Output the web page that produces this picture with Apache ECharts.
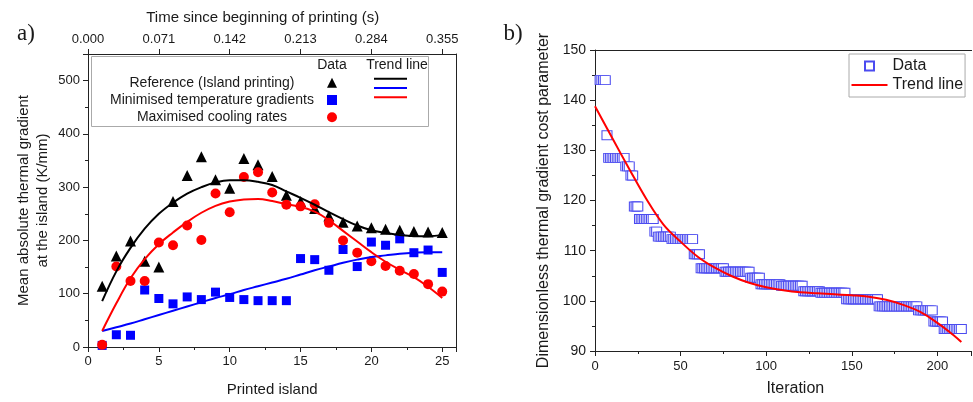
<!DOCTYPE html>
<html><head><meta charset="utf-8">
<script src="https://cdn.jsdelivr.net/npm/echarts@6/dist/echarts.min.js"></script>
<style>html,body{margin:0;padding:0;background:#fff}#c{width:973px;height:402px}</style>
</head><body><div id="c"></div>
<script>
// ---------- panel a) ----------
const islands = [1,2,3,4,5,6,7,8,9,10,11,12,13,14,15,16,17,18,19,20,21,22,23,24,25];
const referenceData = [114,171,199,161,150,273,322,357,314,298,354,342,320,285,273,260,246,234,227,224,221,219,217,216,215];
const minTempData   = [3,23,22,107,91,81,94,89,103,93,89,87,87,87,166,164,144,183,151,197,191,203,177,182,140];
const maxCoolData   = [4,151,124,124,196,191,228,201,288,253,319,328,290,267,264,268,233,200,177,161,152,143,137,118,104];
const referenceTrend = [86,142,186,222,250,271,288,300,309,313,313,310,304,292,280,267,253,240,228,219,214,210,208,208,210];
const minTempTrend   = [30,37,44,52,60,68,76,84,92,99,107,114,121,128,136,144,151,158,164,169,172,175,177,178,178];
const maxCoolTrend   = [30,82,129,165,193,215,235,252,265,273,277,278,274,268,263,254,238,218,198,178,160,145,131,113,92];
const islandTicks = [0,5,10,15,20,25];
const timeTickLabels = ['0.000','0.071','0.142','0.213','0.284','0.355'];
const seriesNamesA = ['Reference (Island printing)','Minimised temperature gradients','Maximised cooling rates'];

// ---------- panel b) ----------
const firstIteration = 3;
const costData = [
 144,144,144,144,
 133,
 128.5,128.5,128.5,128.5,128.5,128.5,128.5,128.5,128.5,128.5,
 126.8,126.8,126.8,
 125,125,
 118.8,118.8,118.8,
 116.3,116.3,116.3,116.3,116.3,116.3,116.3,116.3,116.3,
 113.8,113.8,
 112.8,112.8,112.8,112.8,112.8,112.8,112.8,112.8,
 112.3,112.3,112.3,112.3,112.3,112.3,112.3,112.3,112.3,112.3,112.3,112.3,112.3,
 109.3,109.3,109.3,109.3,
 106.5,106.5,106.5,106.5,106.5,106.5,106.5,106.5,106.5,106.5,106.5,106.5,106.5,106.5,
 105.8,105.8,105.8,105.8,105.8,105.8,105.8,105.8,105.8,105.8,105.8,105.8,105.8,105.8,105.8,
 104.6,104.6,104.6,104.6,104.6,104.6,
 103.3,103.3,103.3,103.3,103.3,103.3,103.3,103.3,103.3,103.3,103.3,103.3,
 103.0,103.0,103.0,103.0,103.0,103.0,103.0,103.0,103.0,103.0,103.0,103.0,103.0,
 101.9,101.9,101.9,101.9,101.9,101.9,101.9,101.9,101.9,101.9,
 101.6,101.6,101.6,101.6,101.6,101.6,101.6,101.6,101.6,101.6,101.6,101.6,101.6,101.6,101.6,
 100.3,100.3,100.3,100.3,100.3,100.3,100.3,100.3,100.3,100.3,100.3,100.3,100.3,100.3,100.3,100.3,100.3,100.3,100.3,
 98.9,98.9,98.9,98.9,98.9,98.9,98.9,98.9,98.9,98.9,98.9,98.9,98.9,98.9,98.9,98.9,98.9,98.9,98.9,98.9,98.9,98.9,98.9,
 98.1,98.1,98.1,98.1,98.1,98.1,98.1,98.1,98.1,
 95.9,95.9,95.9,95.9,95.9,95.9,
 94.4,94.4,94.4,94.4,94.4,94.4,94.4,94.4,94.4,94.4,94.4
];
const trendIterations = [0,10,20,30,40,50,60,70,80,90,100,110,120,130,140,150,160,170,180,190,200,210,214];
const costTrend = [138.8,132.5,126.3,120.3,115.2,111.8,108.8,106.6,104.9,103.6,102.7,102.1,101.7,101.5,101.3,101.1,100.8,100.2,99.2,97.8,95.6,93.0,91.8];

const FONT = 'Liberation Sans, Arial, sans-serif';
const TXT = '#1a1a1a';
const AX = '#222';
const LINE_ICON_A = 'path://M0,0L33,0L33,2L0,2Z';
const LINE_ICON_B = 'path://M0,0L36,0L36,2L0,2Z';
const SQUARE_ICON = 'path://M0,0L9,0L9,9L0,9Z';

function pairs(xs, ys){ return xs.map((x,i)=>[x, ys[i]]); }

const chart = echarts.init(document.getElementById('c'));
const baseAxis = {
  axisLine:{show:true, onZero:false, lineStyle:{color:AX, width:1}},
  splitLine:{show:false},
  axisTick:{show:true, inside:false, length:5, lineStyle:{color:AX}},
  minorTick:{show:true, splitNumber:2, length:3, lineStyle:{color:AX}},
  axisLabel:{color:TXT, fontSize:13, fontFamily:FONT, showMaxLabel:false, margin:8},
  nameTextStyle:{color:TXT, fontFamily:FONT, fontSize:15}
};
function ax(o){ return Object.assign({}, JSON.parse(JSON.stringify(baseAxis)), o); }

const option = {
  animation:false,
  backgroundColor:'#fff',
  textStyle:{fontFamily:FONT},
  grid:[
    {left:88, top:54, width:368.4, height:296},
    {left:595, top:50, width:376.6, height:303.3}
  ],
  xAxis:[
    ax({gridIndex:0, type:'value', position:'bottom', min:0, max:26, interval:5,
        name:'Printed island', nameLocation:'middle', nameGap:35}),
    ax({gridIndex:0, type:'value', position:'top', min:0, max:26, interval:5,
        minorTick:{show:false},
        axisLabel:{color:TXT, fontSize:13, fontFamily:FONT, showMaxLabel:false, margin:8,
          formatter:v=>{const k=islandTicks.indexOf(v); return k>=0?timeTickLabels[k]:'';}},
        name:'Time since beginning of printing (s)', nameLocation:'middle', nameGap:29,
        nameTextStyle:{color:TXT, fontFamily:FONT, fontSize:15, padding:[0,19,0,0]}}),
    ax({gridIndex:1, type:'value', position:'bottom', min:0, max:220, interval:50,
        name:'Iteration', nameLocation:'middle', nameGap:30,
        axisLabel:{color:TXT, fontSize:13, fontFamily:FONT, showMaxLabel:false, margin:9},
        nameTextStyle:{color:TXT, fontFamily:FONT, fontSize:16, padding:[0,0,0,24]}}),
    {gridIndex:1, type:'value', position:'top', min:0, max:220,
        axisLine:{show:true, onZero:false, lineStyle:{color:AX}}, axisTick:{show:false},
        axisLabel:{show:false}, splitLine:{show:false}}
  ],
  yAxis:[
    ax({gridIndex:0, type:'value', position:'left', min:0, max:550, interval:100,
        name:'Mean absolute thermal gradient\nat the island (K/mm)', nameLocation:'middle', nameGap:36,
        nameTextStyle:{color:TXT, fontFamily:FONT, fontSize:15, lineHeight:19}}),
    {gridIndex:0, type:'value', position:'right', min:0, max:550,
        axisLine:{show:true, onZero:false, lineStyle:{color:AX}}, axisTick:{show:false},
        axisLabel:{show:false}, splitLine:{show:false}},
    ax({gridIndex:1, type:'value', position:'left', min:90, max:150, interval:10,
        axisLabel:{color:TXT, fontSize:14, fontFamily:FONT, margin:9},
        name:'Dimensionless thermal gradient cost parameter', nameLocation:'middle', nameGap:43,
        nameTextStyle:{color:TXT, fontFamily:FONT, fontSize:16}})
  ],
  legend:[
    {orient:'vertical', left:327, top:77.7, padding:0, itemGap:7.3, itemWidth:10, itemHeight:10,
     selectedMode:false, data:seriesNamesA, formatter:()=>'', textStyle:{fontSize:10, lineHeight:10}},
    {orient:'vertical', left:374, top:77.7, padding:0, itemGap:7.3, itemWidth:33, itemHeight:10,
     selectedMode:false, icon:LINE_ICON_A, data:seriesNamesA.map(n=>n+' trend'), formatter:()=>'',
     textStyle:{fontSize:10, lineHeight:10}},
    {orient:'vertical', left:849, top:54, padding:[4,2,4,2.5], itemGap:3, itemWidth:36, itemHeight:9,
     borderColor:'#aaa', borderWidth:1, backgroundColor:'#fff',
     selectedMode:false,
     data:[{name:'Data', icon:SQUARE_ICON}, {name:'Trend line', icon:LINE_ICON_B}],
     textStyle:{fontSize:16, lineHeight:16, color:TXT, fontFamily:FONT}}
  ],
  graphic:[
    {type:'rect', z:1, shape:{x:91.5, y:56.5, width:337, height:70},
     style:{fill:'#fff', stroke:'#aaa', lineWidth:1}},
    {type:'text', z:5, x:332, y:65, style:{text:'Data', fontSize:14, fontFamily:FONT, fill:TXT, align:'center', verticalAlign:'middle'}},
    {type:'text', z:5, x:397, y:65, style:{text:'Trend line', fontSize:14, fontFamily:FONT, fill:TXT, align:'center', verticalAlign:'middle'}},
    {type:'text', z:5, x:212, y:82.7, style:{text:seriesNamesA[0], fontSize:14, fontFamily:FONT, fill:TXT, align:'center', verticalAlign:'middle'}},
    {type:'text', z:5, x:212, y:100, style:{text:seriesNamesA[1], fontSize:14, fontFamily:FONT, fill:TXT, align:'center', verticalAlign:'middle'}},
    {type:'text', z:5, x:212, y:117.3, style:{text:seriesNamesA[2], fontSize:14, fontFamily:FONT, fill:TXT, align:'center', verticalAlign:'middle'}},
    {type:'text', x:26, y:34, style:{text:'a)', fontSize:23, fontFamily:'Liberation Serif, Times New Roman, serif', fill:TXT, align:'center', verticalAlign:'middle'}},
    {type:'text', x:513, y:33.5, style:{text:'b)', fontSize:23, fontFamily:'Liberation Serif, Times New Roman, serif', fill:TXT, align:'center', verticalAlign:'middle'}}
  ],
  series:[
    {name:seriesNamesA[0]+' trend', type:'line', xAxisIndex:0, yAxisIndex:0, smooth:0.4, symbol:'none',
     data:pairs(islands, referenceTrend), lineStyle:{color:'#000', width:2}, itemStyle:{color:'#000'}},
    {name:seriesNamesA[1]+' trend', type:'line', xAxisIndex:0, yAxisIndex:0, smooth:0.4, symbol:'none',
     data:pairs(islands, minTempTrend), lineStyle:{color:'#0000ff', width:2}, itemStyle:{color:'#0000ff'}},
    {name:seriesNamesA[2]+' trend', type:'line', xAxisIndex:0, yAxisIndex:0, smooth:0.4, symbol:'none',
     data:pairs(islands, maxCoolTrend), lineStyle:{color:'#ff0000', width:2}, itemStyle:{color:'#ff0000'}},
    {name:seriesNamesA[0], type:'scatter', xAxisIndex:0, yAxisIndex:0, symbol:'triangle', symbolSize:11,
     data:pairs(islands, referenceData), itemStyle:{color:'#000', opacity:1}},
    {name:seriesNamesA[1], type:'scatter', xAxisIndex:0, yAxisIndex:0, symbol:'rect', symbolSize:9,
     data:pairs(islands, minTempData), itemStyle:{color:'#0000ff', opacity:1}},
    {name:seriesNamesA[2], type:'scatter', xAxisIndex:0, yAxisIndex:0, symbol:'circle', symbolSize:10,
     data:pairs(islands, maxCoolData), itemStyle:{color:'#ff0000', opacity:1}},
    {name:'Data', type:'scatter', xAxisIndex:2, yAxisIndex:2, symbol:'rect', symbolSize:[10,9],
     data:costData.map((v,i)=>[firstIteration+i, v]),
     itemStyle:{color:'#fff', borderColor:'#4b4bf0', borderWidth:1, opacity:1}},
    {name:'Trend line', type:'line', xAxisIndex:2, yAxisIndex:2, smooth:0.4, symbol:'none',
     data:pairs(trendIterations, costTrend), lineStyle:{color:'#ff0000', width:2}, itemStyle:{color:'#ff0000'}, z:3}
  ]
};
chart.setOption(option);
</script></body></html>
